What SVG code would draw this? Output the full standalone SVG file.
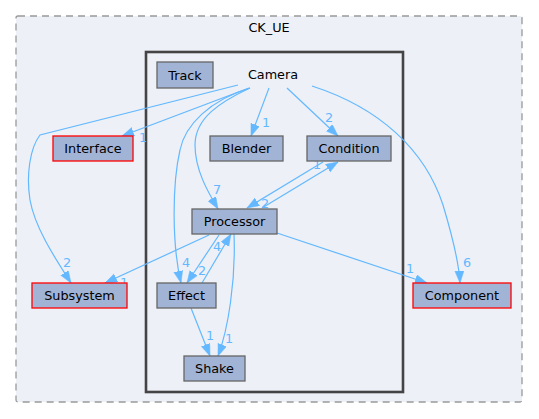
<svg xmlns="http://www.w3.org/2000/svg" width="539" height="419" viewBox="0 0 539 419">
<style>
text{font-family:"DejaVu Sans","Liberation Sans",sans-serif;font-size:12.8px;fill:#000;text-anchor:middle}
.node{fill:#a2b4d6;stroke:#666666;stroke-width:1.3}
.red{fill:#a2b4d6;stroke:#ff0000;stroke-width:1.3}
.edge{fill:none;stroke:#63b8ff;stroke-width:1.2;marker-end:url(#arr)}
.lbl{fill:#63b8ff}
</style>
<defs>
<marker id="arr" markerUnits="userSpaceOnUse" markerWidth="13" markerHeight="10" refX="12" refY="4.5" orient="auto">
<path d="M0,0 L12,4.5 L0,9 z" fill="#63b8ff" stroke="#63b8ff" stroke-width="0.5"/>
</marker>
</defs>
<rect width="539" height="419" fill="#ffffff"/>
<g id="cluster_CK_UE">
<rect x="16" y="16" width="506" height="386" rx="2" fill="#edf0f7" stroke="#999999" stroke-width="1.3" stroke-dasharray="7,5"/>
<text x="269" y="32">CK_UE</text>
</g>
<g id="cluster_Camera">
<rect x="146" y="52" width="257" height="340" fill="#edf0f7" stroke="#444444" stroke-width="2.6"/>
<text x="273" y="79">Camera</text>
</g>
<g id="connectors">
<path class="edge" d="M238,85 L40,135 C30,148 26,175 30,200 C35,228 55,258 71,283"/>
<text class="lbl" x="67" y="266.5">2</text>
<path class="edge" d="M249,88 L122,136"/>
<text class="lbl" x="143" y="141.5">1</text>
<path class="edge" d="M269,88 L251,136"/>
<text class="lbl" x="266" y="126.5">1</text>
<path class="edge" d="M287,88 L338,136"/>
<text class="lbl" x="329" y="121.5">2</text>
<path class="edge" d="M312,86 C380,108 425,150 443,205 C452,235 459,262 460,283"/>
<text class="lbl" x="467" y="266.5">6</text>
<path class="edge" d="M250,88 C220,102 195,118 195,145 C195,170 208,192 218,209"/>
<text class="lbl" x="217" y="193.5">7</text>
<path class="edge" d="M250,88 C210,100 185,125 180,150 C172,185 172,245 181,283"/>
<text class="lbl" x="186" y="266.5">4</text>
<path class="edge" d="M209,235 L105,283"/>
<text class="lbl" x="124" y="286.5">1</text>
<path class="edge" d="M277,233 L427,283"/>
<text class="lbl" x="410" y="272.5">1</text>
<path class="edge" d="M262,208 L338,162"/>
<text class="lbl" x="317" y="168.5">1</text>
<path class="edge" d="M323,162 L247,208"/>
<text class="lbl" x="265" y="207.5">2</text>
<path class="edge" d="M219,235 L187,283"/>
<text class="lbl" x="202" y="274.5">2</text>
<path class="edge" d="M202,283 L231,234"/>
<text class="lbl" x="217" y="250.5">4</text>
<path class="edge" d="M234,234 C236,280 228,330 218,356"/>
<text class="lbl" x="229" y="342.5">1</text>
<path class="edge" d="M191,308 L210,356"/>
<text class="lbl" x="210" y="339.5">1</text>
</g>
<g id="node_Track"><rect class="node" x="157" y="62" width="56" height="26"/><text x="185" y="79.5">Track</text></g>
<g id="node_Interface"><rect class="red" x="53" y="136" width="80" height="25"/><text x="93" y="153">Interface</text></g>
<g id="node_Blender"><rect class="node" x="210" y="136" width="73" height="25"/><text x="246.5" y="153">Blender</text></g>
<g id="node_Condition"><rect class="node" x="307" y="136" width="84" height="25"/><text x="349" y="153">Condition</text></g>
<g id="node_Processor"><rect class="node" x="192" y="209" width="85" height="25"/><text x="234.5" y="226">Processor</text></g>
<g id="node_Subsystem"><rect class="red" x="32" y="283" width="95" height="25"/><text x="79.5" y="300">Subsystem</text></g>
<g id="node_Effect"><rect class="node" x="157" y="283" width="59" height="25"/><text x="186.5" y="300">Effect</text></g>
<g id="node_Component"><rect class="red" x="413" y="283" width="98" height="25"/><text x="462" y="300">Component</text></g>
<g id="node_Shake"><rect class="node" x="184" y="356" width="61" height="25"/><text x="214.5" y="373">Shake</text></g>
</svg>
